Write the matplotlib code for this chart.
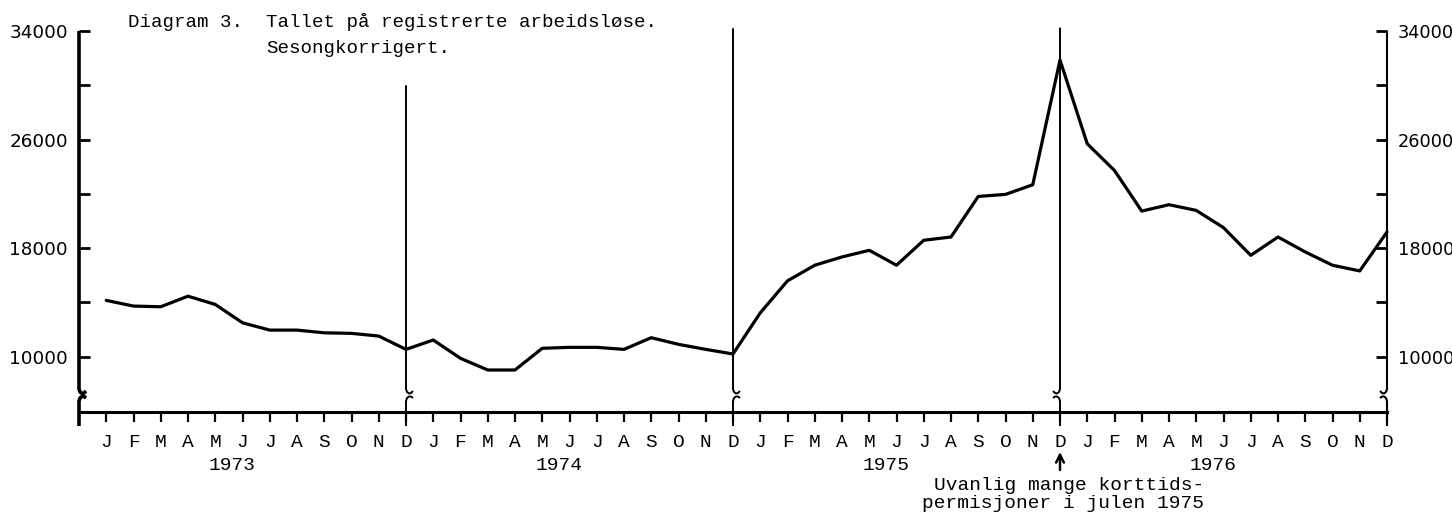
import matplotlib
matplotlib.use("Agg")
import matplotlib.pyplot as plt

# ---------------- data ----------------
month_letters = ["J", "F", "M", "A", "M", "J", "J", "A", "S", "O", "N", "D"]
years = ["1973", "1974", "1975", "1976"]
vals_1973 = [14150, 13730, 13680, 14460, 13850, 12500, 11960, 11960, 11760, 11720, 11520, 10540]
vals_1974 = [11230, 9880, 9020, 9020, 10620, 10690, 10690, 10540, 11400, 10910, 10540, 10200]
vals_1975 = [13230, 15590, 16740, 17350, 17840, 16740, 18580, 18820, 21810, 21960, 22670, 31860]
vals_1976 = [25690, 23720, 20730, 21200, 20780, 19510, 17470, 18820, 17720, 16740, 16320, 19190]
major_ticks = [10000, 18000, 26000, 34000]
minor_ticks = [14000, 22000, 30000]
title_1 = "Diagram 3.  Tallet på registrerte arbeidsløse."
title_2 = "Sesongkorrigert."
note_1 = "Uvanlig mange korttids-"
note_2 = "permisjoner i julen 1975"

values = vals_1973 + vals_1974 + vals_1975 + vals_1976
months = list(range(1, len(values) + 1))

# ---------------- layout ----------------
W, H = 1452, 512
X0, X1 = 79, 1387
YTOP, YBOT = 31, 412
YMIN, YMAX = 5925, 34000

fig = plt.figure(figsize=(W / 100, H / 100), dpi=100)
fig.patch.set_facecolor("white")
ax = fig.add_axes([X0 / W, 1 - YBOT / H, (X1 - X0) / W, (YBOT - YTOP) / H])
ax.set_xlim(0, 48)
ax.set_ylim(YMIN, YMAX)

MONO = ["Liberation Mono", "DejaVu Sans Mono"]
SANS = ["DejaVu Sans"]


def vy(py):
    return YMAX - (py - YTOP) * (YMAX - YMIN) / (YBOT - YTOP)


def mx(px):
    return (px - X0) * 48 / (X1 - X0)


DXM = 48 / (X1 - X0)

for s in ["top", "left", "right"]:
    ax.spines[s].set_visible(False)
ax.spines["bottom"].set_linewidth(2.2)

# ---------------- data line ----------------
ax.plot(months, values, color="black", lw=2.3, solid_joinstyle="round",
        solid_capstyle="round", zorder=5, clip_on=False)

# ---------------- ticks ----------------
ax.set_xticks(months)
ax.set_xticklabels(month_letters * 4, fontfamily=MONO, fontsize=14)
ax.tick_params(axis="x", direction="out", length=7.5, width=1.6, pad=8)

ax.set_yticks(major_ticks)
ax.set_yticks(minor_ticks, minor=True)
ax.set_yticklabels([str(v) for v in major_ticks], fontfamily=SANS, fontsize=13.2)
ax.tick_params(axis="y", which="both", direction="in", length=8, width=2.0,
               left=True, right=True, labelleft=True, labelright=True, pad=8)
for t in ax.yaxis.get_major_ticks():
    t.label2.set_fontsize(12.8)


# ---------------- broken vertical lines ----------------
def broken_line(m, top_val, lw, d=1):
    upper = [(0, None), (0, 389), (1, 392), (3, 393.5), (5, 393), (7, 391)]
    lower = [(7, 398), (5, 396.5), (3, 396.5), (1, 398), (0, 401), (0, 426)]
    ux = [m + d * dx * DXM for dx, _ in upper]
    uy = [top_val if py is None else vy(py) for _, py in upper]
    lx = [m + d * dx * DXM for dx, _ in lower]
    ly = [vy(py) for _, py in lower]
    ax.plot(ux, uy, color="black", lw=lw, clip_on=False, zorder=4,
            solid_capstyle="butt")
    ax.plot(lx, ly, color="black", lw=lw, clip_on=False, zorder=4,
            solid_capstyle="butt")


broken_line(0, 34000, 2.6, 1)
broken_line(12, 30000, 1.4, 1)
broken_line(24, 34200, 1.4, 1)
broken_line(36, 34250, 1.4, -1)
broken_line(48, 34000, 1.5, -1)

# ---------------- year labels ----------------
for i, yr in enumerate(years):
    ax.text(5.6 + 12 * i, vy(465), yr, ha="center", va="center",
            fontfamily=MONO, fontsize=14, clip_on=False)

# ---------------- note with arrow ----------------
ax.annotate("", xy=(36, vy(452)), xytext=(36, vy(470)),
            arrowprops=dict(arrowstyle="->", lw=1.8, color="black",
                            mutation_scale=14, shrinkA=0, shrinkB=0),
            annotation_clip=False)
ax.text(mx(1204), vy(486), note_1, ha="right", va="center",
        fontfamily=MONO, fontsize=14, clip_on=False)
ax.text(mx(1204), vy(504), note_2, ha="right", va="center",
        fontfamily=MONO, fontsize=14, clip_on=False)

# ---------------- title ----------------
fig.text(128 / W, 1 - 27 / H, title_1, ha="left", va="baseline",
         fontfamily=MONO, fontsize=13.8)
fig.text(266 / W, 1 - 53 / H, title_2, ha="left", va="baseline",
         fontfamily=MONO, fontsize=13.8)

fig.savefig("out.png", dpi=100)
